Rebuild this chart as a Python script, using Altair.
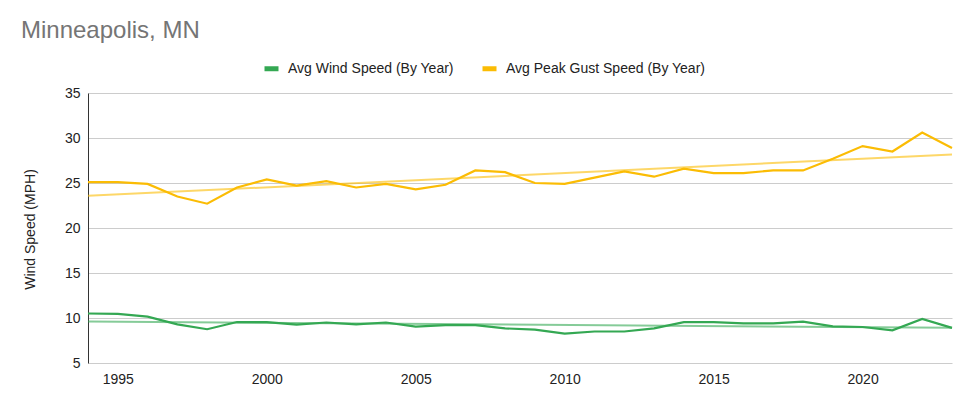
import altair as alt
import pandas as pd

years = list(range(1994, 2024))
wind = [10.5, 10.45, 10.15, 9.3, 8.75, 9.55, 9.55, 9.26, 9.5, 9.3,
        9.5, 9.04, 9.2, 9.2, 8.85, 8.7, 8.26, 8.5, 8.5, 8.85,
        9.55, 9.55, 9.4, 9.4, 9.6, 9.07, 9.0, 8.63, 9.9, 8.9]
gust = [25.1, 25.1, 24.9, 23.5, 22.7, 24.5, 25.4, 24.7, 25.2, 24.5,
        24.9, 24.3, 24.8, 26.4, 26.2, 25.0, 24.9, 25.6, 26.3, 25.7,
        26.6, 26.1, 26.1, 26.4, 26.4, 27.7, 29.1, 28.5, 30.6, 28.9]
series_names = ["Avg Wind Speed (By Year)", "Avg Peak Gust Speed (By Year)"]
colors = ["#34A853", "#FBBC04"]
x_ticks = [1995, 2000, 2005, 2010, 2015, 2020]
y_ticks = [5, 10, 15, 20, 25, 30, 35]

rows = []
for y, w, g in zip(years, wind, gust):
    rows.append({"year": y, "series": series_names[0], "value": w})
    rows.append({"year": y, "series": series_names[1], "value": g})
df = pd.DataFrame(rows)

FONT = "Liberation Sans"

x_enc = alt.X("year:Q", scale=alt.Scale(domain=[1994, 2023], nice=False, zero=False),
              axis=alt.Axis(values=x_ticks, format="d", grid=False, domain=False, ticks=False,
                            labelPadding=9, labelFontSize=14, labelColor="#222222", title=None,
                            labelFont=FONT))
y_enc = alt.Y("value:Q", scale=alt.Scale(domain=[5, 35], nice=False, zero=False),
              axis=alt.Axis(values=y_ticks, grid=True, gridColor="#cccccc", domain=True,
                            domainColor="#333333", ticks=False, labelPadding=8,
                            labelFontSize=14, labelColor="#222222", labelFont=FONT,
                            title="Wind Speed (MPH)", titleFontSize=14, titleFontWeight="normal",
                            titleColor="#222222", titleFont=FONT, titlePadding=27, titleY=136))
color_scale = alt.Scale(domain=series_names, range=colors)

legend = alt.Legend(title=None, orient="none", legendX=174, legendY=-34,
                    direction="horizontal", symbolType="stroke",
                    symbolSize=196, symbolStrokeWidth=5, symbolOpacity=1,
                    labelFontSize=14, labelColor="#222222", labelFont=FONT,
                    labelLimit=400, columnPadding=18, labelOffset=7)
color_enc = alt.Color("series:N", scale=color_scale, sort=series_names, legend=legend)

base = alt.Chart(df)

lines = base.mark_line(strokeWidth=2.2).encode(x=x_enc, y=y_enc, color=color_enc)

trend = base.transform_regression("year", "value", groupby=["series"]).mark_line(
    strokeWidth=2, opacity=0.6).encode(
    x="year:Q", y="value:Q", color=color_enc,
)

chart = alt.layer(trend, lines).properties(
    width=864, height=270,
    title=alt.TitleParams("Minneapolis, MN", anchor="start", frame="group", dx=-67,
                          fontSize=24, fontWeight="normal", color="#757575", font=FONT, offset=16),
    autosize=alt.AutoSizeParams(type="none"),
    padding={"left": 80, "top": 85, "right": 6, "bottom": 30},
).configure_view(stroke=None)

chart.save("out.html", embed_options={"renderer": "svg", "actions": False})
